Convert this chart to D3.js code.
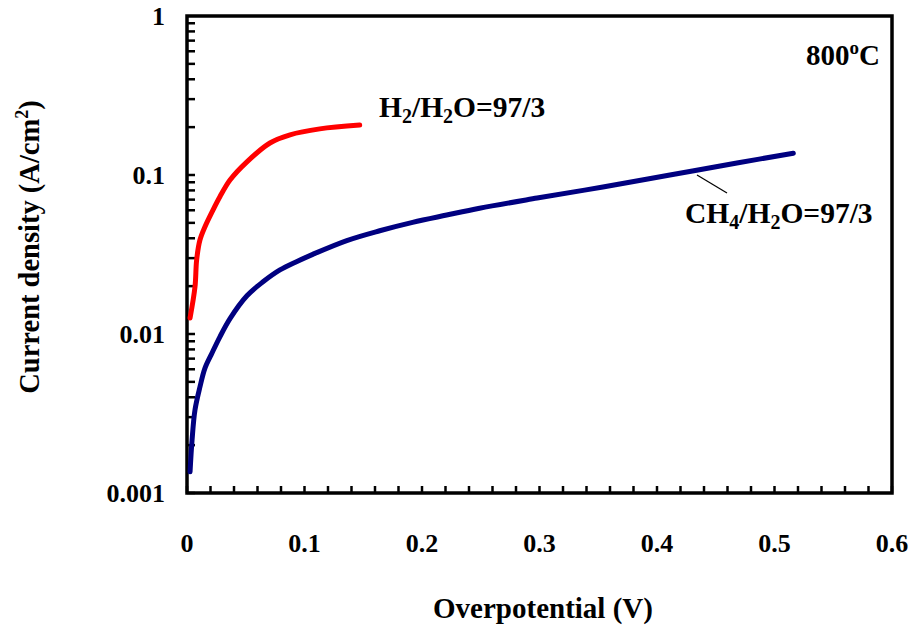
<!DOCTYPE html>
<html>
<head>
<meta charset="utf-8">
<script src="https://cdn.jsdelivr.net/npm/d3@7"></script>
<style>
  body { margin: 0; background: #fff; }
  text { font-family: "Liberation Serif", "Times New Roman", serif; font-weight: bold; fill: #000; }
</style>
</head>
<body>
<div id="chart"></div>
<script>
// H2/H2O = 97/3 curve
const h2X = [0.0026, 0.0068, 0.0082, 0.011, 0.0153, 0.022, 0.028, 0.0366, 0.051, 0.0706, 0.0877, 0.113, 0.147];
const h2Y = [0.0126, 0.0198, 0.0292, 0.039, 0.0473, 0.060, 0.073, 0.093, 0.121, 0.159, 0.179, 0.195, 0.206];

// CH4/H2O = 97/3 curve
const ch4X = [0.0026, 0.0043, 0.0068, 0.011, 0.0153, 0.0213, 0.028, 0.0366, 0.051, 0.0647, 0.0791,
  0.0936, 0.107, 0.136, 0.164, 0.192, 0.221, 0.249, 0.298, 0.354, 0.411, 0.468, 0.516];
const ch4Y = [0.00136, 0.00215, 0.00333, 0.00464, 0.0061, 0.0076, 0.0096, 0.0125, 0.0174, 0.0213, 0.0253,
  0.0286, 0.0317, 0.0387, 0.0446, 0.0504, 0.056, 0.0618, 0.0716, 0.0841, 0.100, 0.119, 0.137];

const xTickLabels = [0, 0.1, 0.2, 0.3, 0.4, 0.5, 0.6];
const yTickLabels = [0.001, 0.01, 0.1, 1];

const width = 912;
const height = 628;
const margin = { left: 187, right: 20, top: 16, bottom: 135 };

const svg = d3.select("#chart")
  .append("svg")
  .attr("width", width)
  .attr("height", height);

const x = d3.scaleLinear().domain([0, 0.6]).range([margin.left, width - margin.right]);
const y = d3.scaleLog().domain([0.001, 1]).range([height - margin.bottom, margin.top]);

// x ticks every 0.02, pointing inward
const xTicks = d3.range(0, 31).map(i => i * 0.02);
svg.append("g")
  .selectAll("line")
  .data(xTicks)
  .join("line")
  .attr("x1", d => x(d))
  .attr("x2", d => x(d))
  .attr("y1", y(0.001))
  .attr("y2", y(0.001) - 7)
  .attr("stroke", "black")
  .attr("stroke-width", 2.5);

// y ticks at 1..9 per decade
const yTicks = [];
[0.001, 0.01, 0.1].forEach(dec => {
  for (let k = 1; k < 10; k++) yTicks.push(dec * k);
});
svg.append("g")
  .selectAll("line")
  .data(yTicks)
  .join("line")
  .attr("x1", x(0))
  .attr("x2", x(0) + 8)
  .attr("y1", d => y(d))
  .attr("y2", d => y(d))
  .attr("stroke", "black")
  .attr("stroke-width", 2.5);

// frame
svg.append("rect")
  .attr("x", x(0))
  .attr("y", y(1))
  .attr("width", x(0.6) - x(0))
  .attr("height", y(0.001) - y(1))
  .attr("fill", "none")
  .attr("stroke", "black")
  .attr("stroke-width", 3.5);

// tick labels
svg.append("g")
  .selectAll("text")
  .data(xTickLabels)
  .join("text")
  .attr("x", d => x(d))
  .attr("y", 552)
  .attr("text-anchor", "middle")
  .attr("font-size", 26)
  .text(d => d);

svg.append("g")
  .selectAll("text")
  .data(yTickLabels)
  .join("text")
  .attr("x", 165)
  .attr("y", d => y(d) + 9)
  .attr("text-anchor", "end")
  .attr("font-size", 26)
  .text(d => d);

// axis titles
svg.append("text")
  .attr("x", 543)
  .attr("y", 618)
  .attr("text-anchor", "middle")
  .attr("font-size", 29)
  .text("Overpotential (V)");

const yt = svg.append("text")
  .attr("transform", "translate(39,247) rotate(-90)")
  .attr("text-anchor", "middle")
  .attr("font-size", 28.5);
yt.append("tspan").text("Current density (A/cm");
yt.append("tspan").attr("dy", -11).attr("font-size", 18).text("2");
yt.append("tspan").attr("dy", 11).text(")");

// curves
const line = d3.line()
  .x(d => x(d[0]))
  .y(d => y(d[1]))
  .curve(d3.curveCatmullRom);

svg.append("path")
  .attr("d", line(d3.zip(ch4X, ch4Y)))
  .attr("fill", "none")
  .attr("stroke", "#000080")
  .attr("stroke-width", 5)
  .attr("stroke-linecap", "round");

svg.append("path")
  .attr("d", line(d3.zip(h2X, h2Y)))
  .attr("fill", "none")
  .attr("stroke", "#ff0000")
  .attr("stroke-width", 5)
  .attr("stroke-linecap", "round");

// annotations
const t800 = svg.append("text").attr("x", 806).attr("y", 65).attr("font-size", 29);
t800.append("tspan").text("800");
t800.append("tspan").attr("dy", -11).attr("font-size", 19).text("o");
t800.append("tspan").attr("dy", 11).text("C");

const th2 = svg.append("text").attr("x", 379).attr("y", 117).attr("font-size", 29.5);
th2.append("tspan").text("H");
th2.append("tspan").attr("dy", 6).attr("font-size", 20).text("2");
th2.append("tspan").attr("dy", -6).text("/H");
th2.append("tspan").attr("dy", 6).attr("font-size", 20).text("2");
th2.append("tspan").attr("dy", -6).text("O=97/3");

const tch4 = svg.append("text").attr("x", 685).attr("y", 223).attr("font-size", 29.5);
tch4.append("tspan").text("CH");
tch4.append("tspan").attr("dy", 6).attr("font-size", 20).text("4");
tch4.append("tspan").attr("dy", -6).text("/H");
tch4.append("tspan").attr("dy", 6).attr("font-size", 20).text("2");
tch4.append("tspan").attr("dy", -6).text("O=97/3");

// leader line to the CH4 curve
svg.append("line")
  .attr("x1", 697).attr("y1", 175)
  .attr("x2", 727).attr("y2", 193)
  .attr("stroke", "black")
  .attr("stroke-width", 1.2);
</script>
</body>
</html>
